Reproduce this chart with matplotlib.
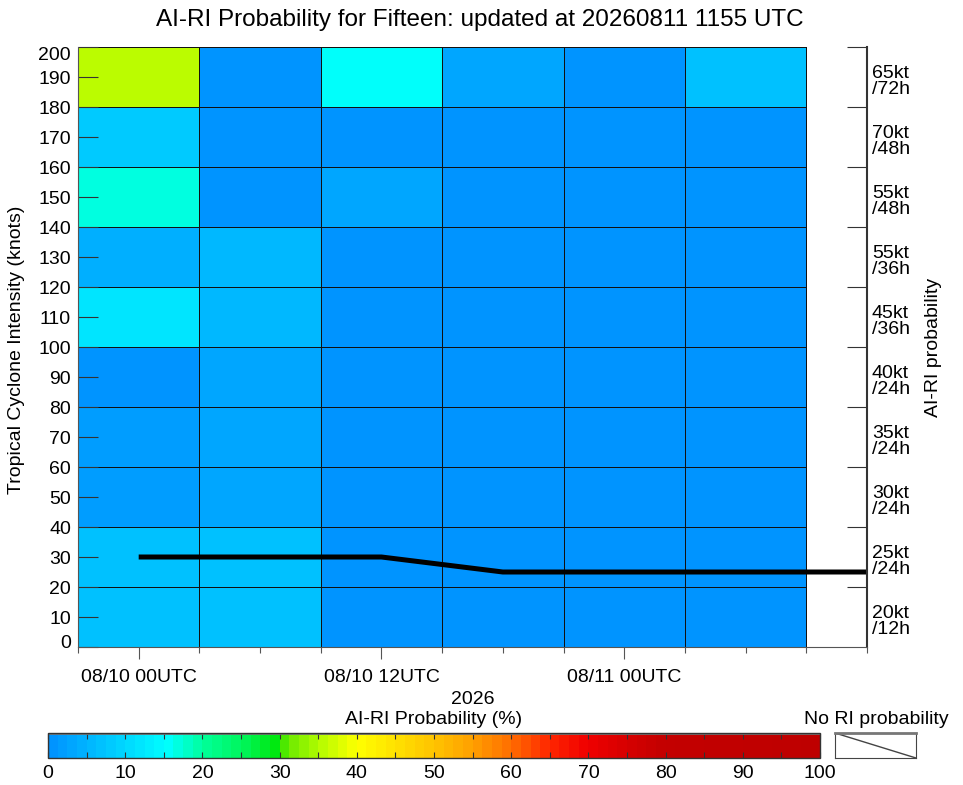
import numpy as np
import matplotlib
matplotlib.use("Agg")
import matplotlib.pyplot as plt
import matplotlib.transforms as mtransforms
from matplotlib.colors import LinearSegmentedColormap, Normalize
from matplotlib.cm import ScalarMappable

plt.rcParams['font.family'] = ['Liberation Sans', 'DejaVu Sans']

# forecast valid times, hours after 08/10 00UTC
valid_hours = [0, 6, 12, 18, 24, 30]
band_edges = [0, 20, 40, 60, 80, 100, 120, 140, 160, 180, 200]
ri_labels = ["20kt\n/12h", "25kt\n/24h", "30kt\n/24h", "35kt\n/24h", "40kt\n/24h",
             "45kt\n/36h", "55kt\n/36h", "55kt\n/48h", "70kt\n/48h", "65kt\n/72h"]
# RI probability (%), one row per band, bottom band first
ri_prob = [
    [7.0, 7.0, 1.0, 1.0, 1.0, 1.0],
    [7.0, 7.0, 1.0, 1.0, 1.0, 1.0],
    [2.0, 3.0, 1.0, 1.0, 1.0, 1.0],
    [1.5, 3.0, 1.0, 1.0, 1.0, 1.0],
    [0.5, 3.0, 1.0, 1.0, 1.0, 1.0],
    [12.0, 5.0, 1.0, 1.0, 1.0, 1.0],
    [4.0, 5.0, 1.0, 1.0, 1.0, 1.0],
    [17.0, 1.0, 3.0, 1.0, 1.0, 1.0],
    [8.0, 1.0, 1.0, 1.0, 1.0, 1.0],
    [36.0, 1.0, 15.0, 3.0, 1.0, 7.0],
]
track_hours = [0, 6, 12, 18, 24, 30, 36]
track_vmax = [30, 30, 30, 25, 25, 25, 25]
tick_hours = [0, 12, 24]
tick_labels = ["08/10 00UTC", "08/10 12UTC", "08/11 00UTC"]

anchors = [
    (0.00, (0, 148, 255)), (0.15, (0, 255, 255)), (0.20, (0, 255, 150)),
    (0.25, (0, 245, 90)), (0.30, (0, 230, 0)), (0.305, (100, 232, 0)),
    (0.35, (180, 252, 0)), (0.40, (255, 255, 0)), (0.45, (255, 225, 0)),
    (0.50, (255, 195, 0)), (0.55, (255, 160, 0)), (0.60, (255, 110, 0)),
    (0.65, (255, 40, 0)), (0.70, (240, 0, 0)), (0.75, (215, 0, 0)),
    (0.80, (195, 0, 0)), (1.00, (190, 0, 0)),
]
cmap = LinearSegmentedColormap.from_list(
    "airi", [(p, tuple(c / 255 for c in rgb)) for p, rgb in anchors], N=80)
norm = Normalize(0, 100)

fig = plt.figure(figsize=(9.63, 7.85), dpi=100)
ax = fig.add_axes([78 / 963, 1 - 647 / 785, 789 / 963, 600 / 785])

x_edges = [h - 3 for h in valid_hours] + [valid_hours[-1] + 3]
ax.pcolormesh(x_edges, band_edges, np.array(ri_prob), cmap=cmap, norm=norm,
              edgecolors='#111111', linewidth=0.6)
ax.plot(track_hours, track_vmax, color='k', lw=3.6, solid_capstyle='butt')

ax.set_xlim(-3, 36)
ax.set_ylim(0, 200)
ax.set_yticks(range(0, 201, 10))
ax.tick_params(axis='y', direction='in', length=14.4, width=0.8, color='#333333',
               labelsize=14, pad=5)
ax.set_xticks(tick_hours)
ax.set_xticklabels(tick_labels)
ax.set_xticks(range(-3, 37, 3), minor=True)
ax.tick_params(axis='x', which='major', direction='out', length=8.6, width=0.8,
               color='#555555', labelsize=14, pad=7)
ax.tick_params(axis='x', which='minor', direction='out', length=4.3, width=0.8,
               color='#555555')
ax.spines['top'].set_visible(False)
ax.spines['left'].set_color('#555555')
ax.spines['bottom'].set_color('#555555')
ax.spines['right'].set_color('#333333')
ax.spines['right'].set_linewidth(1.5)

# end labels sit just inside the axis range
ylabs = ax.get_yticklabels()
ylabs[0].set_transform(ylabs[0].get_transform() +
                       mtransforms.ScaledTranslation(0, 6 / 100, fig.dpi_scale_trans))
ylabs[-1].set_transform(ylabs[-1].get_transform() +
                        mtransforms.ScaledTranslation(0, -6 / 100, fig.dpi_scale_trans))

ax2 = ax.twinx()
ax2.set_ylim(0, 200)
ax2.set_yticks(band_edges[1:])
ax2.set_yticklabels([])
ax2.tick_params(axis='y', direction='in', length=14.4, width=0.8, color='#333333')
for s in ax2.spines.values():
    s.set_visible(False)

for i, lab in enumerate(ri_labels):
    yc = (band_edges[i] + band_edges[i + 1]) / 2
    ax.text(1.0063, yc - 1.6, lab, transform=ax.get_yaxis_transform(),
            ha='left', va='center', fontsize=14, linespacing=0.9)

fig.text(480 / 963, 1 - 20 / 785,
         "AI-RI Probability for Fifteen: updated at 20260811 1155 UTC",
         ha='center', va='center', fontsize=17.5)
fig.text(17 / 963, 1 - 350 / 785, "Tropical Cyclone Intensity (knots)",
         rotation=90, ha='center', va='center', fontsize=14)
fig.text(933 / 963, 1 - 347 / 785, "AI-RI probability",
         rotation=90, ha='center', va='center', fontsize=14)
fig.text(473 / 963, 1 - 700 / 785, "2026", ha='center', va='center', fontsize=14)
fig.text(434 / 963, 1 - 719 / 785, "AI-RI Probability (%)",
         ha='center', va='center', fontsize=14)
fig.text(876 / 963, 1 - 719 / 785, "No RI probability",
         ha='center', va='center', fontsize=14)

cax = fig.add_axes([48 / 963, 1 - 758 / 785, 772 / 963, 25 / 785])
cb = fig.colorbar(ScalarMappable(norm=norm, cmap=cmap), cax=cax,
                  orientation='horizontal')
cb.set_ticks(range(0, 101, 10))
cb.ax.set_xticks(range(0, 101, 5), minor=True)
cb.ax.tick_params(which='both', direction='in', top=True, bottom=True,
                  length=4, width=0.8, color='#333333')
cb.ax.tick_params(which='major', labelsize=14, pad=5)
cb.outline.set_edgecolor('#333333')
cb.outline.set_linewidth(1.0)
cax.axhline(1, color='#777777', lw=2.0)

nax = fig.add_axes([835 / 963, 1 - 758 / 785, 81 / 963, 25 / 785])
nax.plot([0, 1], [1, 0], color='#444444', lw=1.0)
nax.set_xlim(0, 1)
nax.set_ylim(0, 1)
nax.set_xticks([])
nax.set_yticks([])
for s in nax.spines.values():
    s.set_color('#444444')
nax.spines['top'].set_color('#777777')
nax.spines['top'].set_linewidth(2.0)

fig.savefig("out.png", dpi=100)
